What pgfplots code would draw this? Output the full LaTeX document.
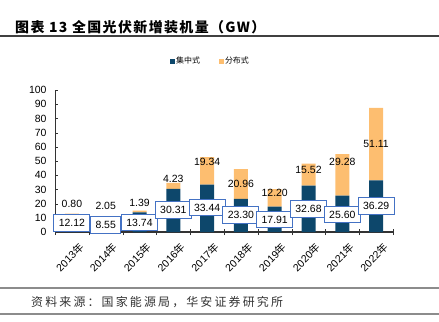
\documentclass[border=0pt]{standalone}
\usepackage{fontspec}
\setmainfont{Liberation Sans}
\newfontfamily\cjk{Noto Sans CJK SC}
\newfontfamily\cjktitle[LetterSpace=10]{Noto Sans CJK SC}
\newfontfamily\cjksp[LetterSpace=18]{Noto Sans CJK SC}
\usepackage{pgfplots}
\pgfplotsset{compat=1.18}
\usepackage{pgfplotstable}

\definecolor{cblue}{RGB}{13,71,107}
\definecolor{corange}{RGB}{253,190,112}
\definecolor{boxblue}{RGB}{68,114,196}

\pgfplotstableread{
x cen dis
0 12.12 0.80
1 8.55 2.05
2 13.74 1.39
3 30.31 4.23
4 33.44 19.34
5 23.30 20.96
6 17.91 12.20
7 32.68 15.52
8 25.60 29.28
9 36.29 51.11
}\datatable

\pgfplotstableread{
x yc lc yd ld
0 6.3 12.12 19.5 0.80
1 5.0 8.55 18.3 2.05
2 6.8 13.74 20.2 1.39
3 15.5 30.31 37.1 4.23
4 17.3 33.44 49.5 19.34
5 12.0 23.30 33.6 20.96
6 8.8 17.91 27.2 12.20
7 16.4 32.68 43.7 15.52
8 12.4 25.60 49.1 29.28
9 18.2 36.29 61.8 51.11
}\labeltable

\begin{document}
\begin{tikzpicture}[x=1bp,y=1bp]
\path[use as bounding box] (0,0) rectangle (439,321);
\node[anchor=west, inner sep=0pt, font=\cjktitle\bfseries\fontsize{14}{16}\selectfont] at (15,294) {图表 13 全国光伏新增装机量（GW）};
\draw[line width=1.2bp, black!75] (0,285) -- (439,285);
\draw[line width=1.5bp, black!45] (0,33) -- (439,33);
\draw[line width=1.5bp, black!45] (0,7) -- (439,7);
\node[anchor=west, inner sep=0pt, text=black!80, font=\cjksp\fontsize{12}{14}\selectfont] at (31,18.5) {资料来源：国家能源局，华安证券研究所};

\begin{axis}[
  at={(55bp,89bp)}, anchor=south west,
  scale only axis, width=338bp, height=142bp,
  ybar stacked, bar width=14bp,
  xmin=-0.5, xmax=9.5, ymin=0, ymax=100,
  ytick={0,10,...,100},
  xtick={0,...,9},
  xticklabels={2013{\cjk 年},2014{\cjk 年},2015{\cjk 年},2016{\cjk 年},2017{\cjk 年},2018{\cjk 年},2019{\cjk 年},2020{\cjk 年},2021{\cjk 年},2022{\cjk 年}},
  minor xtick={-0.5,0.5,...,9.5},
  major x tick style={draw=none},
  minor tick length=6bp,
  major tick length=3bp,
  xtick align=center,
  ytick align=inside,
  axis lines*=left,
  axis line style={black!80},
  x axis line style={line width=1.5bp},
  tick style={black!80},
  /pgf/number format/assume math mode=true,
  ticklabel style={font=\fontsize{10.5}{12}\selectfont},
  yticklabel style={xshift=-5bp},
  x tick label style={rotate=45, anchor=north east, yshift=-7bp, xshift=2bp},
  legend style={at={(0.4586,1.204)}, anchor=center, draw=none, legend columns=2,
    font=\cjk\fontsize{8}{9}\selectfont, nodes={inner xsep=1.5bp},
    /tikz/every even column/.append style={column sep=17bp}},
  legend image code/.code={\fill[#1] (0bp,-3bp) rectangle (5bp,2bp);},
]
\addplot[fill=cblue, draw=none] table[x=x,y=cen]{\datatable};
\addplot[fill=corange, draw=none] table[x=x,y=dis]{\datatable};
\legend{集中式,分布式}
\end{axis}

\begin{axis}[
  at={(55bp,89bp)}, anchor=south west,
  scale only axis, width=338bp, height=142bp,
  xmin=-0.5, xmax=9.5, ymin=0, ymax=100,
  hide axis, clip=false,
]
\addplot[draw=none, mark=none, nodes near coords, point meta=explicit symbolic,
  nodes near coords style={anchor=center, font=\fontsize{10.5}{12}\selectfont, inner sep=0pt}]
  table[x=x, y=yd, meta=ld]{\labeltable};
\addplot[draw=none, mark=none, nodes near coords, point meta=explicit symbolic,
  nodes near coords style={anchor=center, font=\fontsize{10.5}{12}\selectfont, draw=boxblue, fill=white, line width=1bp, inner xsep=5bp, inner ysep=4.5bp, text height=7.6bp, text depth=0pt}]
  table[x=x, y=yc, meta=lc]{\labeltable};
\end{axis}
\end{tikzpicture}
\end{document}
